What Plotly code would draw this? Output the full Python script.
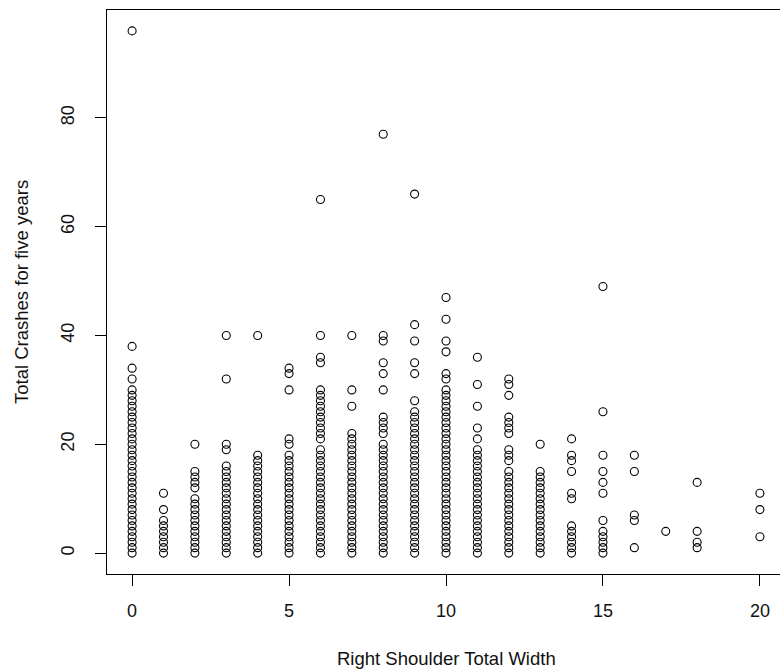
import plotly.graph_objects as go

# Right shoulder total width (x) -> total crashes over five years (y), one list per width
width_0 = [0, 1, 2, 3, 4, 5, 6, 7, 8, 9, 10, 11, 12, 13, 14, 15, 16, 17, 18, 19, 20,
           21, 22, 23, 24, 25, 26, 27, 28, 29, 30, 32, 34, 38, 96]
width_1 = [0, 1, 2, 3, 4, 5, 6, 8, 11]
width_2 = [0, 1, 2, 3, 4, 5, 6, 7, 8, 9, 10, 12, 13, 14, 15, 20]
width_3 = [0, 1, 2, 3, 4, 5, 6, 7, 8, 9, 10, 11, 12, 13, 14, 15, 16, 19, 20, 32, 40]
width_4 = [0, 1, 2, 3, 4, 5, 6, 7, 8, 9, 10, 11, 12, 13, 14, 15, 16, 17, 18, 40]
width_5 = [0, 1, 2, 3, 4, 5, 6, 7, 8, 9, 10, 11, 12, 13, 14, 15, 16, 17, 18, 20, 21,
           30, 33, 34]
width_6 = [0, 1, 2, 3, 4, 5, 6, 7, 8, 9, 10, 11, 12, 13, 14, 15, 16, 17, 18, 19, 21,
           22, 23, 24, 25, 26, 27, 28, 29, 30, 35, 36, 40, 65]
width_7 = [0, 1, 2, 3, 4, 5, 6, 7, 8, 9, 10, 11, 12, 13, 14, 15, 16, 17, 18, 19, 20,
           21, 22, 27, 30, 40]
width_8 = [0, 1, 2, 3, 4, 5, 6, 7, 8, 9, 10, 11, 12, 13, 14, 15, 16, 17, 18, 19, 20,
           22, 23, 24, 25, 30, 33, 35, 39, 40, 77]
width_9 = [0, 1, 2, 3, 4, 5, 6, 7, 8, 9, 10, 11, 12, 13, 14, 15, 16, 17, 18, 19, 20,
           21, 22, 23, 24, 25, 26, 28, 33, 35, 39, 42, 66]
width_10 = [0, 1, 2, 3, 4, 5, 6, 7, 8, 9, 10, 11, 12, 13, 14, 15, 16, 17, 18, 19, 20,
            21, 22, 23, 24, 25, 26, 27, 28, 29, 30, 32, 33, 37, 39, 43, 47]
width_11 = [0, 1, 2, 3, 4, 5, 6, 7, 8, 9, 10, 11, 12, 13, 14, 15, 16, 17, 18, 19, 21,
            23, 27, 31, 36]
width_12 = [0, 1, 2, 3, 4, 5, 6, 7, 8, 9, 10, 11, 12, 13, 14, 15, 17, 18, 19, 22, 23,
            24, 25, 29, 31, 32]
width_13 = [0, 1, 2, 3, 4, 5, 6, 7, 8, 9, 10, 11, 12, 13, 14, 15, 20]
width_14 = [0, 1, 2, 3, 4, 5, 10, 11, 15, 17, 18, 21]
width_15 = [0, 1, 2, 3, 4, 6, 11, 13, 15, 18, 26, 49]
width_16 = [1, 6, 7, 15, 18]
width_17 = [4]
width_18 = [1, 2, 4, 13]
width_20 = [3, 8, 11]

columns = {
    0: width_0, 1: width_1, 2: width_2, 3: width_3, 4: width_4, 5: width_5,
    6: width_6, 7: width_7, 8: width_8, 9: width_9, 10: width_10, 11: width_11,
    12: width_12, 13: width_13, 14: width_14, 15: width_15, 16: width_16,
    17: width_17, 18: width_18, 20: width_20,
}

x_ticks = [0, 5, 10, 15, 20]
y_ticks = [0, 20, 40, 60, 80]
x_title = "Right Shoulder Total Width"
y_title = "Total Crashes for five years"

xs, ys = [], []
for w, vals in columns.items():
    for v in vals:
        xs.append(w)
        ys.append(v)

FONT = "Liberation Sans, Arial, sans-serif"

fig = go.Figure(
    go.Scatter(
        x=xs, y=ys, mode="markers",
        marker=dict(symbol="circle-open", size=8, color="black",
                    line=dict(width=1.1, color="black")),
        hoverinfo="x+y",
    )
)

fig.update_layout(
    width=780, height=669,
    margin=dict(l=107, r=0, t=10, b=95),
    paper_bgcolor="white", plot_bgcolor="white",
    showlegend=False,
    font=dict(family=FONT, size=18, color="black"),
)

fig.update_xaxes(
    range=[-0.8, 20.64], tickvals=x_ticks, ticktext=[str(t) for t in x_ticks],
    showgrid=False, zeroline=False,
    showline=True, mirror=True, linecolor="black", linewidth=1,
    ticks="outside", ticklen=11, tickwidth=1, tickcolor="black",
    tickfont=dict(family=FONT, size=18, color="#111"),
    ticklabelstandoff=9,
)
fig.update_yaxes(
    range=[-3.84, 99.84], tickvals=y_ticks, ticktext=[str(t) for t in y_ticks],
    showgrid=False, zeroline=False,
    showline=True, mirror=False, linecolor="black", linewidth=1,
    ticks="outside", ticklen=11, tickwidth=1, tickcolor="black",
    tickangle=-90,
    tickfont=dict(family=FONT, size=18, color="#111"),
    ticklabelstandoff=14,
)

fig.add_annotation(
    text=x_title, xref="x", x=10, yref="paper", y=0,
    yanchor="middle", yshift=-84, showarrow=False,
    font=dict(family=FONT, size=18.5, color="#111"),
)
fig.add_annotation(
    text=y_title, xref="paper", x=0, xanchor="center", xshift=-86,
    yref="y", y=48, textangle=-90, showarrow=False,
    font=dict(family=FONT, size=18.5, color="#111"),
)

fig.write_html(
    "out.html",
    config={"displayModeBar": False},
    post_script="document.body.style.margin='0';document.body.style.padding='0';"
                "document.body.style.overflow='hidden';",
)
